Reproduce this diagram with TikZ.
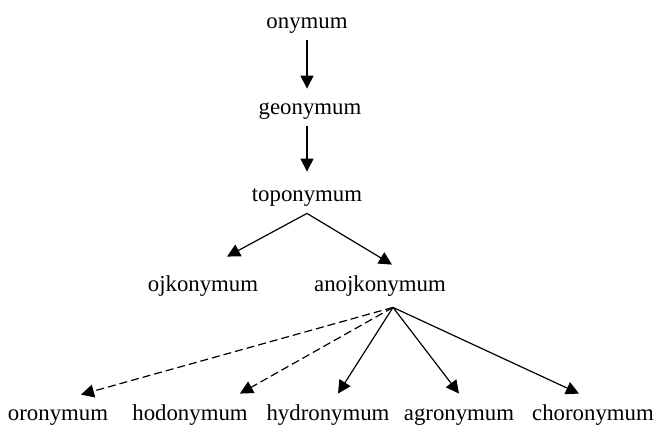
\documentclass[tikz,border=0pt]{standalone}
\usepackage{fontspec}
\setmainfont{Liberation Serif}
\usetikzlibrary{arrows.meta}
\usetikzlibrary{positioning}

\tikzset{
  term/.style={anchor=base, inner sep=3pt, text height=8pt, text depth=2.5pt,
    font=\fontsize{11.4}{13}\selectfont},
  arr/.style={-{Triangle[length=6.5pt,width=6.5pt]}, line width=0.6pt},
  darr/.style={arr, dash pattern=on 4pt off 2pt},
}

\begin{document}
\begin{tikzpicture}[x=0.5pt, y=-0.5pt]
\useasboundingbox (0,0) rectangle (655,426);

\node[term] (ony) at (307,29) {onymum};
\node[term] (geo) at (310,115) {geonymum};
\node[term] (top) at (307,202) {toponymum};
\node[term] (ojk) at (203,292) {ojkonymum};
\node[term] (anojk) at (380,292) {anojkonymum};

\node[term] (oro) at (58,421) {oronymum};
\node[term] (hod) at (190,421) {hodonymum};
\node[term] (hyd) at (328,421) {hydronymum};
\node[term] (agr) at (459,421) {agronymum};
\node[term] (cho) at (593,421) {choronymum};

\draw[arr, shorten >=2pt] (ony.south) -- (geo.north -| ony.south);
\draw[arr, shorten >=4pt] (geo.south -| ony.south) -- (top.north -| ony.south);

\draw[arr] (top.south) -- ([shift={(24,-13)}]ojk.north);
\draw[arr] (top.south) -- ([shift={(12,-5)}]anojk.north);

\coordinate (fan) at ([shift={(13,4)}]anojk.south);
\draw[darr] (fan) -- ([shift={(23,-4)}]oro.north);
\draw[darr] (fan) -- ([shift={(50,-5)}]hod.north);
\draw[arr] (fan) -- ([shift={(10,-5)}]hyd.north);
\draw[arr] (fan) -- ([shift={(0,-5)}]agr.north);
\draw[arr] (fan) -- ([shift={(-14,-5)}]cho.north);

\end{tikzpicture}
\end{document}
